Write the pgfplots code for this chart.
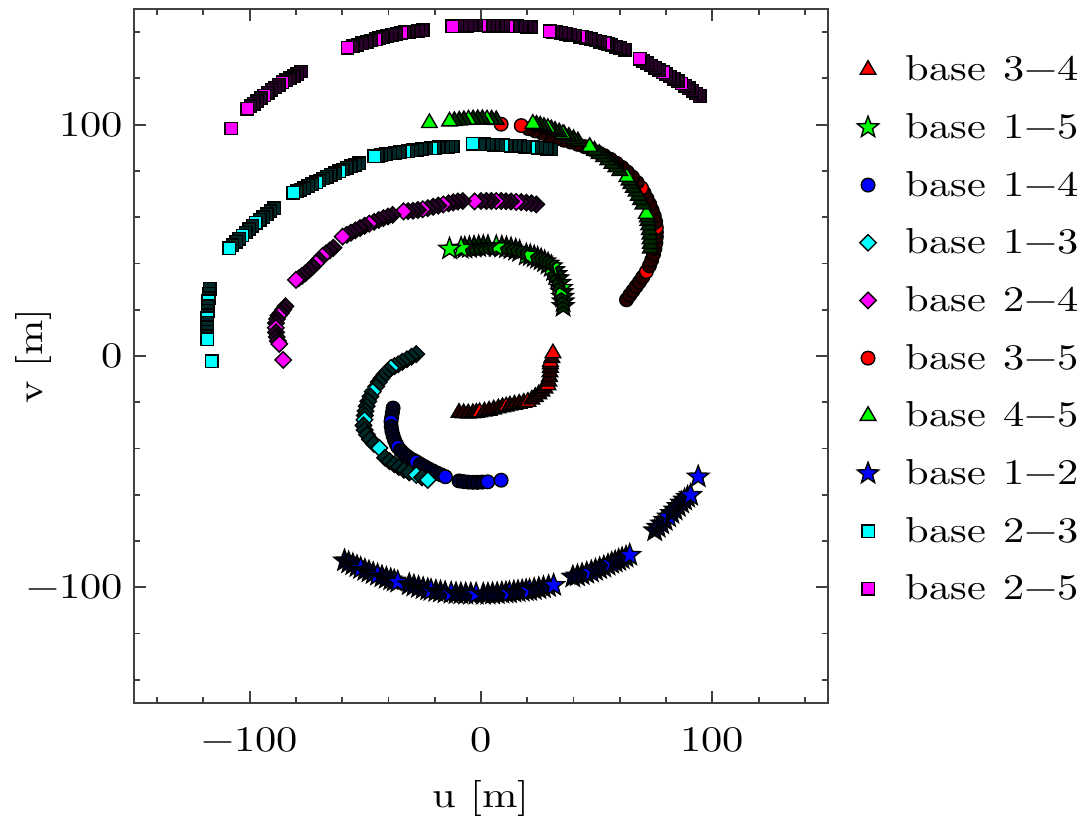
\documentclass[border=0pt]{standalone}
\usepackage{fontspec}
\setmainfont{lmroman10-regular.otf}[FakeStretch=1.18]
\usepackage{pgfplots}
\pgfplotsset{compat=1.18}
\definecolor{cR}{RGB}{255,0,0}
\definecolor{cG}{RGB}{0,255,0}
\definecolor{cB}{RGB}{0,0,255}
\definecolor{cC}{RGB}{0,255,255}
\definecolor{cM}{RGB}{255,0,255}
\definecolor{cK}{RGB}{0,0,0}
\pgfdeclareplotmark{rdiamond*}{%
  \pgfpathmoveto{\pgfqpoint{0pt}{\pgfplotmarksize}}%
  \pgfpathlineto{\pgfqpoint{\pgfplotmarksize}{0pt}}%
  \pgfpathlineto{\pgfqpoint{0pt}{-\pgfplotmarksize}}%
  \pgfpathlineto{\pgfqpoint{-\pgfplotmarksize}{0pt}}%
  \pgfpathclose\pgfusepathqfillstroke}
\pgfdeclareplotmark{fstar*}{%
  \pgfpathmoveto{\pgfpointpolar{90}{\pgfplotmarksize}}%
  \pgfpathlineto{\pgfpointpolar{126}{0.42\pgfplotmarksize}}%
  \pgfpathlineto{\pgfpointpolar{162}{\pgfplotmarksize}}%
  \pgfpathlineto{\pgfpointpolar{198}{0.42\pgfplotmarksize}}%
  \pgfpathlineto{\pgfpointpolar{234}{\pgfplotmarksize}}%
  \pgfpathlineto{\pgfpointpolar{270}{0.42\pgfplotmarksize}}%
  \pgfpathlineto{\pgfpointpolar{306}{\pgfplotmarksize}}%
  \pgfpathlineto{\pgfpointpolar{342}{0.42\pgfplotmarksize}}%
  \pgfpathlineto{\pgfpointpolar{18}{\pgfplotmarksize}}%
  \pgfpathlineto{\pgfpointpolar{54}{0.42\pgfplotmarksize}}%
  \pgfpathclose\pgfusepathqfillstroke}
\newcommand{\fs}{\fontsize{18}{22}\selectfont}
\pgfplotsset{
  bl/.style n args={3}{forget plot, only marks, scatter, scatter src=explicit symbolic, mark size=#3,
    scatter/classes={t={mark=#1, draw=cK, fill=#2!16!cK, line width=0.7pt},
                     c={mark=#1, draw=cK, fill=#2, line width=0.7pt}}},
  li/.style n args={3}{only marks, mark=#1, mark size=#3, draw=cK, fill=#2, line width=0.7pt},
}
\begin{document}
\begin{tikzpicture}
\begin{axis}[name=ax, scale only axis, width=347pt, height=347pt,
  xmin=-150, xmax=150, ymin=-150, ymax=150,
  xtick={-100,0,100}, xticklabels={−100,0,100},
  ytick={-100,0,100}, yticklabels={−100,0,100},
  minor xtick={-140,-120,...,140}, minor ytick={-140,-120,...,140},
  tick align=inside, major tick length=6pt, minor tick length=3pt,
  axis line style={black!75, line width=1pt},
  every tick/.style={black!75, line width=0.9pt},
  xticklabel style={font=\fs, yshift=-8.7pt},
  yticklabel style={font=\fs, xshift=-2pt},
  xlabel={u [m]}, ylabel={v [m]},
  xlabel style={font=\fs, at={(axis description cs:0.5,-0.1383)}, anchor=center},
  ylabel style={font=\fs, at={(axis description cs:-0.1455,0.5)}, anchor=center},
  legend style={font=\fs, draw=none, fill=none, at={(1,0.5385)}, anchor=west, xshift=11.5pt,
    column sep=11.5pt, row sep=10.85pt},
  legend cell align=left,
]
% base 3-4
\addplot[bl={triangle*}{cR}{4.5pt}] table[meta=c] {
x y c
-9.5 -24.5 t
-7.5 -24.7 t
-5.5 -24.8 t
-3.5 -24.7 t
-2.0 -24.5 t
-0.6 -24.3 c
1.5 -24.0 t
3.5 -23.6 t
5.5 -23.1 t
7.5 -22.6 t
9.3 -22.1 t
10.9 -21.8 c
12.5 -21.4 t
14.5 -21.0 t
16.5 -20.6 t
18.5 -20.2 t
20.3 -19.8 c
22.0 -18.8 t
23.5 -17.7 t
25.0 -16.5 t
26.3 -15.3 t
27.6 -14.0 t
28.9 -12.6 c
29.3 -11.0 t
29.6 -9.0 t
29.8 -7.0 t
30.0 -5.0 t
30.0 -3.5 t
30.0 -2.5 c
30.6 -0.8 t
31.1 1.2 c
};
% base 1-5
\addplot[bl={fstar*}{cG}{5.6pt}] table[meta=c] {
x y c
35.5 21.5 t
35.5 23.5 t
35.3 25.5 t
35.0 27.5 t
34.7 29.3 c
34.0 31.5 t
33.2 33.5 t
32.3 35.3 t
31.4 37.0 t
30.4 38.7 c
29.0 39.8 t
27.5 40.8 t
26.0 41.6 t
24.5 42.3 t
23.0 42.9 t
21.3 43.4 t
19.6 43.7 c
16.7 45.2 t
15.0 45.8 t
13.0 46.4 t
11.0 46.8 t
9.0 47.1 t
6.6 47.3 c
3.0 47.4 t
1.0 47.4 t
-1.0 47.3 t
-3.0 47.1 t
-5.0 46.9 t
-7.0 46.7 t
-8.6 46.6 c
-13.6 46.3 c
};
% base 1-4
\addplot[bl={*}{cB}{3.4pt}] table[meta=c] {
x y c
-38.0 -22.5 t
-38.3 -24.5 t
-38.6 -26.5 t
-38.9 -28.4 c
-38.8 -30.5 t
-38.5 -32.5 t
-38.0 -34.5 t
-37.4 -36.3 t
-36.7 -37.9 t
-36.0 -39.3 c
-34.8 -40.8 t
-33.5 -42.1 t
-32.0 -43.3 t
-30.5 -44.4 t
-29.2 -45.1 t
-28.0 -45.7 c
-26.2 -46.8 t
-24.4 -47.8 t
-22.6 -48.8 t
-20.8 -49.7 t
-19.0 -50.6 t
-17.2 -51.4 t
-15.4 -52.2 c
-9.5 -54.0 t
-7.5 -54.3 t
-5.5 -54.5 t
-3.5 -54.6 t
-1.5 -54.6 t
0.5 -54.5 t
2.9 -54.4 c
8.7 -53.7 c
};
% base 1-3
\addplot[bl={rdiamond*}{cC}{4.1pt}] table[meta=c] {
x y c
-28.0 0.8 t
-30.0 -0.3 t
-32.0 -1.4 t
-34.0 -2.5 t
-35.8 -3.6 t
-37.4 -4.4 t
-38.9 -5.1 c
-40.3 -6.5 t
-41.7 -8.0 t
-43.0 -9.6 t
-44.2 -11.3 t
-45.3 -13.2 t
-46.8 -15.4 c
-47.8 -17.5 t
-48.7 -19.6 t
-49.4 -21.7 t
-49.9 -23.8 t
-50.2 -25.7 t
-50.4 -27.6 c
-50.8 -30.0 t
-50.3 -32.0 t
-49.3 -34.0 t
-48.0 -36.0 t
-46.3 -38.0 t
-43.9 -39.8 c
-41.5 -44.0 t
-39.5 -45.5 t
-37.5 -46.8 t
-35.5 -48.0 t
-33.3 -49.2 t
-31.0 -50.3 t
-28.0 -51.4 c
-25.5 -52.5 t
-23.0 -53.6 c
};
% base 2-4
\addplot[bl={rdiamond*}{cM}{4.1pt}] table[meta=c] {
x y c
23.9 65.5 t
21.8 66.0 t
19.6 66.3 t
17.4 66.5 t
15.2 66.6 c
13.0 66.8 t
10.8 66.9 t
8.7 67.0 t
6.6 67.0 c
4.5 67.0 t
2.3 67.0 t
0.0 67.0 t
-2.8 66.8 c
-7.9 67.0 t
-10.0 66.8 t
-12.0 66.4 t
-14.0 66.0 t
-16.3 65.5 c
-18.5 65.0 t
-20.7 64.5 t
-23.0 63.9 t
-25.2 63.4 c
-27.3 63.1 t
-29.4 62.8 t
-31.5 62.6 t
-33.5 62.5 c
-38.2 61.0 t
-40.2 60.3 t
-42.2 59.6 t
-44.2 58.8 t
-46.2 58.0 t
-48.3 57.2 c
-50.3 56.3 t
-52.3 55.3 t
-54.3 54.3 t
-56.2 53.3 t
-58.0 52.4 t
-59.8 51.6 c
-63.8 46.8 t
-65.4 45.6 t
-67.0 44.4 t
-68.5 43.2 c
-70.0 41.6 t
-71.3 40.1 c
-72.7 38.6 t
-74.3 37.2 t
-75.9 35.8 t
-77.4 34.6 t
-78.8 33.6 t
-80.0 32.9 c
-84.5 21.5 t
-85.5 20.0 t
-86.5 18.6 t
-87.5 17.5 c
-88.2 16.0 t
-88.6 14.2 t
-88.7 12.2 c
-88.6 10.2 t
-88.3 8.2 t
-87.8 6.5 t
-87.2 5.2 c
-85.5 -1.7 c
};
% base 3-5
\addplot[bl={*}{cR}{3.4pt}] table[meta=c] {
x y c
62.9 24.3 t
64.3 26.3 t
65.7 28.2 t
67.1 30.1 t
68.5 32.0 t
69.9 34.1 t
71.5 36.5 c
72.8 39.0 t
73.8 41.5 t
74.6 44.0 t
75.2 46.5 t
75.6 49.0 t
75.8 51.5 t
75.8 53.5 t
75.8 55.5 c
75.5 58.0 t
74.9 60.5 t
74.0 63.0 t
73.0 65.5 t
71.8 68.0 t
70.5 70.5 t
69.4 72.6 c
67.5 75.0 t
65.5 77.3 t
63.3 79.5 t
61.0 81.5 t
58.6 83.3 t
56.0 85.0 t
53.3 86.6 t
50.5 88.0 t
47.7 89.3 t
44.8 90.5 t
41.8 91.5 t
38.8 92.5 t
35.8 93.3 t
32.7 94.0 t
29.5 95.0 t
26.5 96.3 t
23.5 97.3 t
20.5 98.3 t
17.4 99.6 c
8.7 100.2 c
};
% base 4-5
\addplot[bl={triangle*}{cG}{4.5pt}] table[meta=c] {
x y c
73.2 46.5 t
73.2 48.5 t
73.1 50.5 t
73.0 52.5 t
72.8 54.5 t
72.5 56.5 t
72.2 58.5 t
71.9 60.0 t
71.5 61.5 c
70.0 65.5 t
69.0 67.5 t
68.0 69.3 t
67.0 71.1 t
65.9 72.8 t
64.8 74.4 t
64.0 75.9 t
63.1 77.4 c
60.0 80.0 t
58.3 81.6 t
56.6 83.1 t
54.8 84.6 t
53.0 86.0 t
51.1 87.4 t
49.1 88.8 t
47.0 90.4 c
41.9 92.8 t
40.0 93.8 t
38.0 94.8 t
36.0 95.7 t
35.4 96.0 c
33.8 96.7 t
32.0 97.4 t
30.4 98.0 t
28.9 98.6 c
27.2 99.1 t
25.6 99.6 t
24.0 100.0 t
22.4 100.4 c
6.6 102.0 t
4.6 102.2 t
2.6 102.3 c
0.6 102.4 t
-1.4 102.4 t
-3.4 102.3 t
-5.4 102.2 c
-7.4 102.0 t
-9.4 101.8 t
-11.5 101.6 t
-13.6 101.4 c
-22.3 100.7 c
};
% base 1-2
\addplot[bl={fstar*}{cB}{5.6pt}] table[meta=c] {
x y c
-59.0 -88.5 t
-57.2 -89.4 t
-55.4 -90.2 t
-53.6 -91.0 t
-52.0 -91.8 c
-50.2 -92.6 t
-48.4 -93.3 t
-46.6 -94.0 t
-44.7 -94.7 c
-42.8 -95.4 t
-40.9 -96.1 t
-39.0 -96.7 t
-37.5 -97.2 t
-36.0 -97.7 c
-31.0 -98.8 t
-29.0 -99.4 t
-27.0 -100.0 t
-25.0 -100.5 t
-23.0 -101.0 t
-21.6 -101.3 c
-19.5 -101.7 t
-17.5 -102.0 t
-15.5 -102.3 t
-12.9 -102.5 c
-10.8 -102.7 t
-8.7 -102.8 t
-6.6 -102.9 t
-4.4 -102.9 t
-2.1 -102.9 c
1.0 -103.0 t
3.0 -102.9 t
5.0 -102.8 t
7.0 -102.7 t
9.0 -102.5 t
10.8 -102.4 t
12.3 -102.3 c
14.2 -102.0 t
16.0 -101.8 t
17.8 -101.6 t
19.5 -101.4 t
21.0 -101.3 c
23.0 -100.9 t
25.0 -100.5 t
27.0 -100.1 t
29.2 -99.6 t
31.4 -99.1 c
39.7 -95.5 t
41.7 -95.0 t
43.7 -94.5 t
45.7 -93.9 t
47.7 -93.3 c
49.5 -92.6 t
51.3 -91.9 t
53.1 -91.2 t
54.9 -90.4 t
56.5 -89.6 c
58.0 -89.0 t
59.5 -88.3 t
61.0 -87.6 t
62.7 -86.9 t
64.3 -86.1 c
75.1 -75.5 t
76.6 -74.0 t
78.1 -72.5 t
79.6 -71.0 t
81.1 -69.5 c
82.5 -68.0 t
83.9 -66.5 t
85.3 -65.0 t
86.7 -63.5 t
88.0 -62.2 t
89.3 -61.0 t
90.6 -60.2 c
93.9 -52.2 c
};
% base 2-3
\addplot[bl={square*}{cC}{3.1pt}] table[meta=c] {
x y c
30.4 89.3 t
28.4 89.6 t
26.4 89.8 t
24.4 90.0 t
22.6 90.2 t
21.0 90.3 c
19.0 90.5 t
17.0 90.7 t
15.0 90.8 t
13.0 90.9 t
11.2 91.0 t
9.4 91.1 c
7.4 91.2 t
5.4 91.3 t
3.4 91.4 t
1.4 91.5 t
-0.6 91.6 t
-3.5 91.7 c
-12.2 90.6 t
-14.2 90.4 t
-16.2 90.3 t
-18.2 90.2 t
-20.0 90.0 t
-21.6 89.9 c
-23.6 89.7 t
-25.6 89.5 t
-27.6 89.2 t
-29.6 88.9 t
-31.4 88.6 t
-33.1 88.4 c
-35.1 88.1 t
-37.1 87.8 t
-39.1 87.5 t
-41.1 87.2 t
-43.1 86.8 t
-44.6 86.5 t
-46.1 86.3 c
-52.6 83.4 t
-54.4 82.7 t
-56.2 82.0 t
-58.0 81.3 t
-59.7 80.6 t
-61.3 79.9 c
-63.1 79.1 t
-64.9 78.3 t
-66.6 77.5 t
-68.2 76.7 t
-69.8 75.9 t
-71.3 75.1 c
-73.0 74.3 t
-74.7 73.5 t
-76.4 72.6 t
-78.0 71.8 t
-79.6 71.2 t
-81.2 70.5 c
-89.4 63.9 t
-91.0 62.6 t
-92.6 61.3 t
-94.1 60.0 t
-95.6 58.8 t
-97.3 57.6 c
-98.8 56.2 t
-100.2 54.8 t
-101.7 53.4 t
-103.1 52.1 c
-104.5 50.7 t
-105.9 49.3 t
-107.4 47.9 t
-108.9 46.6 c
-117.3 29.0 t
-117.5 27.0 t
-117.7 25.0 t
-117.9 23.6 c
-118.0 21.6 t
-118.1 19.6 t
-118.2 17.6 t
-118.3 16.4 c
-118.3 14.4 t
-118.3 12.4 t
-118.3 10.4 t
-118.3 8.5 t
-118.3 7.2 c
-116.4 -2.2 c
};
% base 2-5
\addplot[bl={square*}{cM}{3.1pt}] table[meta=c] {
x y c
94.6 112.3 t
93.0 113.5 t
91.4 114.6 t
89.8 115.7 t
88.2 116.8 t
86.7 117.8 c
85.0 118.8 t
83.3 119.8 t
81.7 120.8 t
80.1 121.8 t
78.7 122.6 c
77.0 123.6 t
75.3 124.6 t
73.6 125.6 t
71.9 126.6 t
70.2 127.5 t
68.6 128.4 c
62.1 132.3 t
60.2 133.0 t
58.3 133.7 t
56.4 134.3 t
54.8 134.8 t
53.5 135.2 c
51.5 135.8 t
49.5 136.4 t
47.5 136.9 t
45.5 137.4 t
43.8 137.8 t
42.6 138.0 c
40.6 138.5 t
38.6 138.9 t
36.6 139.3 t
34.6 139.7 t
32.6 140.0 t
31.2 140.2 t
29.7 140.4 c
21.7 142.2 t
19.7 142.3 t
17.7 142.4 t
15.7 142.5 t
13.7 142.6 t
11.6 142.6 c
9.6 142.7 t
7.6 142.8 t
5.6 142.8 t
3.6 142.8 t
1.8 142.9 t
0.0 142.9 c
-2.0 142.9 t
-4.0 142.9 t
-6.0 142.8 t
-8.0 142.8 t
-10.2 142.7 t
-12.5 142.6 c
-25.2 140.8 t
-27.2 140.5 t
-29.2 140.3 t
-31.2 140.1 t
-33.0 139.9 t
-34.5 139.7 c
-36.5 139.3 t
-38.5 138.9 t
-40.5 138.4 t
-42.5 137.9 t
-44.0 137.4 t
-45.4 136.9 c
-47.4 136.4 t
-49.4 135.8 t
-51.4 135.2 t
-53.4 134.6 t
-55.5 133.9 t
-57.7 133.2 c
-77.8 123.0 t
-79.4 122.0 t
-81.0 121.0 t
-82.6 120.1 t
-84.2 119.2 t
-85.8 118.3 c
-87.4 117.3 t
-89.0 116.1 t
-90.6 115.0 t
-92.2 113.8 t
-93.7 112.6 c
-95.2 111.4 t
-96.7 110.2 t
-98.2 109.0 t
-99.6 107.9 t
-101.0 106.8 c
-108.0 98.3 c
};
\addlegendimage{li={triangle*}{cR}{4.5pt}}
\addlegendentry{base\hspace{8.5pt}3−4}
\addlegendimage{li={fstar*}{cG}{5.6pt}}
\addlegendentry{base\hspace{8.5pt}1−5}
\addlegendimage{li={*}{cB}{3.4pt}}
\addlegendentry{base\hspace{8.5pt}1−4}
\addlegendimage{li={rdiamond*}{cC}{4.1pt}}
\addlegendentry{base\hspace{8.5pt}1−3}
\addlegendimage{li={rdiamond*}{cM}{4.1pt}}
\addlegendentry{base\hspace{8.5pt}2−4}
\addlegendimage{li={*}{cR}{3.4pt}}
\addlegendentry{base\hspace{8.5pt}3−5}
\addlegendimage{li={triangle*}{cG}{4.5pt}}
\addlegendentry{base\hspace{8.5pt}4−5}
\addlegendimage{li={fstar*}{cB}{5.6pt}}
\addlegendentry{base\hspace{8.5pt}1−2}
\addlegendimage{li={square*}{cC}{3.1pt}}
\addlegendentry{base\hspace{8.5pt}2−3}
\addlegendimage{li={square*}{cM}{3.1pt}}
\addlegendentry{base\hspace{8.5pt}2−5}
\end{axis}
\pgfresetboundingbox
\path[use as bounding box] ([xshift=-67pt,yshift=-57.5pt]ax.south west) rectangle ([xshift=130pt,yshift=4.5pt]ax.north east);
\end{tikzpicture}
\end{document}
